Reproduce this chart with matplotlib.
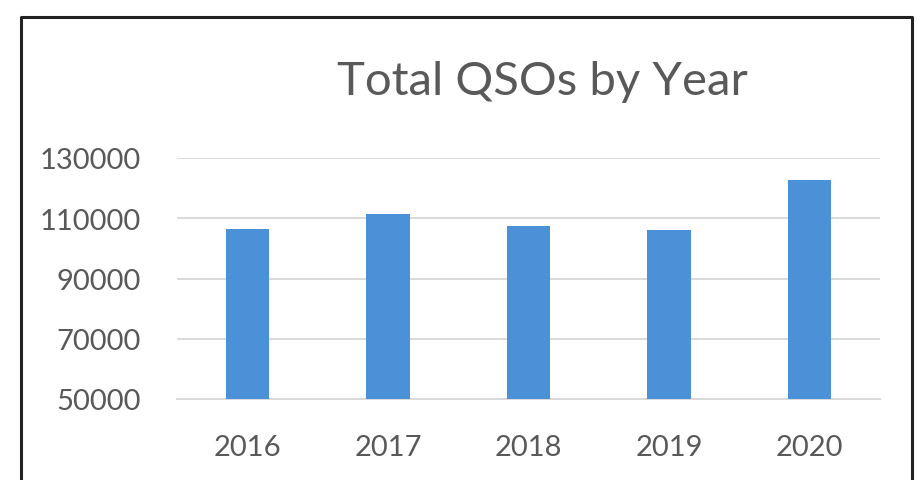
import matplotlib.pyplot as plt
from matplotlib.lines import Line2D

years = ["2016", "2017", "2018", "2019", "2020"]
qsos = [106300, 111300, 107300, 106000, 122700]
y_ticks = [50000, 70000, 90000, 110000, 130000]

bar_color = "#4A91D7"
text_color = "#595959"
grid_color = "#D9D9D9"

plt.rcParams["font.family"] = ["Lato", "DejaVu Sans"]

fig = plt.figure(figsize=(9.24, 4.81), dpi=100)
fig.patch.set_facecolor("white")

W, H = 924, 481
ax = fig.add_axes([177 / W, (H - 400) / H, (880 - 177) / W, (400 - 159) / H])

x = range(len(years))
ax.bar(x, qsos, width=0.31, color=bar_color, zorder=3)

ax.set_xlim(-0.5, len(years) - 0.5)
ax.set_ylim(y_ticks[0], y_ticks[-1])
ax.set_yticks(y_ticks)
ax.set_yticklabels([str(v) for v in y_ticks])
ax.set_xticks(list(x))
ax.set_xticklabels(years)

ax.grid(axis="y", color=grid_color, linewidth=1.4, zorder=0)
for side in ["top", "right", "left"]:
    ax.spines[side].set_visible(False)
ax.spines["bottom"].set_color(grid_color)
ax.spines["bottom"].set_linewidth(1.4)
ax.tick_params(axis="both", length=0, labelsize=21, colors=text_color)
ax.tick_params(axis="y", pad=26)
ax.tick_params(axis="x", pad=25)

fig.text(542 / W, (H - 95) / H, "Total QSOs by Year", ha="center",
         va="baseline", fontsize=34, color=text_color)

# frame around the chart, open at the bottom
fig.add_artist(Line2D([21 / W, 21 / W, 912 / W, 912 / W],
                      [0, (H - 18) / H, (H - 18) / H, 0],
                      transform=fig.transFigure, color="#222222",
                      linewidth=2.2))

fig.savefig("out.png", dpi=100)
